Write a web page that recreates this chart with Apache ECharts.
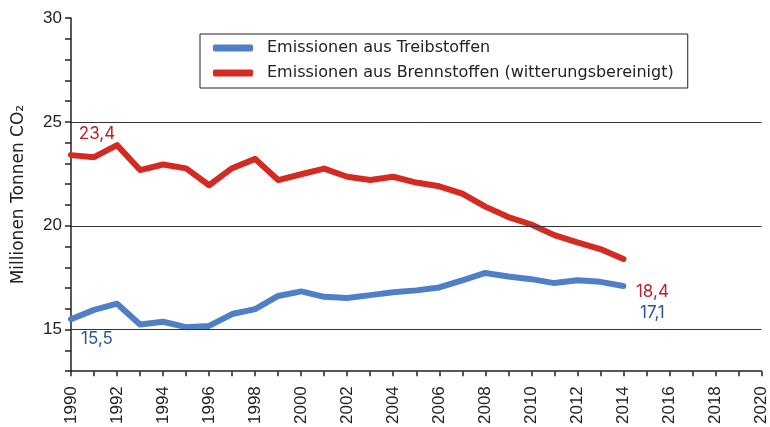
<!DOCTYPE html>
<html>
<head>
<meta charset="utf-8">
<script src="https://cdn.jsdelivr.net/npm/echarts@6/dist/echarts.min.js"></script>
<style>html,body{margin:0;padding:0;background:#fff}#c{width:770px;height:427px}</style>
</head>
<body>
<div id="c"></div>
<script>
const years = [1990,1991,1992,1993,1994,1995,1996,1997,1998,1999,2000,2001,2002,2003,2004,2005,2006,2007,2008,2009,2010,2011,2012,2013,2014];
const treibstoffe = [15.5,15.95,16.25,15.25,15.38,15.12,15.18,15.75,15.99,16.62,16.84,16.58,16.52,16.66,16.8,16.89,17.03,17.37,17.73,17.56,17.43,17.24,17.38,17.3,17.1];
const brennstoffe = [23.4,23.3,23.88,22.68,22.95,22.76,21.95,22.77,23.22,22.2,22.48,22.75,22.36,22.2,22.36,22.08,21.9,21.55,20.92,20.42,20.06,19.55,19.2,18.88,18.4];
const seriesNames = ['Emissionen aus Treibstoffen','Emissionen aus Brennstoffen (witterungsbereinigt)'];
const gridLevels = [15,20,25];
const yTickLabels = [15,20,25,30];
const axisTitle = 'Millionen Tonnen CO\u2082';

const fmt = v => String(v).replace('.', ',');
function build(vals, color, firstOffset, lastOffset){
  return vals.map((v,i)=>{
    const item = {value:[years[i], v]};
    if (i===0 || i===vals.length-1){
      item.label = {show:true, position:'inside', offset: i===0?firstOffset:lastOffset,
        formatter: p=>fmt(p.value[1]), color: color, fontSize:17, fontFamily:'Inter'};
    }
    return item;
  });
}

const chart = echarts.init(document.getElementById('c'));
chart.setOption({
  animation:false,
  backgroundColor:'#fff',
  grid:{left:71,right:5,top:18,bottom:55},
  legend:{
    orient:'vertical', left:200, top:34,
    borderColor:'#222', borderWidth:1, padding:[5,14,6,13],
    itemWidth:40, itemHeight:7, itemGap:7, icon:'roundRect',
    textStyle:{fontFamily:'DejaVu Sans', fontSize:16, color:'#222', lineHeight:18, padding:[0,0,0,9]},
    data:seriesNames
  },
  xAxis:{
    type:'value', min:1990, max:2020, interval:1,
    axisLine:{show:true, lineStyle:{color:'#222', width:1.5}},
    axisTick:{show:true, length:5, lineStyle:{color:'#222', width:1.5}},
    axisLabel:{rotate:90, margin:15, fontSize:17, color:'#222', fontFamily:'Liberation Sans',
      formatter:v=> (v%2===0 ? String(v) : '')},
    splitLine:{show:false}
  },
  yAxis:{
    type:'value', min:13, max:30, interval:1,
    name:axisTitle, nameLocation:'middle', nameGap:44,
    nameTextStyle:{fontSize:17, color:'#222', fontFamily:'DejaVu Sans'},
    axisLine:{show:true, lineStyle:{color:'#222', width:1.5}},
    axisTick:{show:true, length:6, lineStyle:{color:'#222', width:1.5}},
    axisLabel:{margin:9, fontSize:17, color:'#222', fontFamily:'Liberation Sans',
      formatter:v=> (yTickLabels.indexOf(v)>=0 ? String(v) : '')},
    splitLine:{show:false}
  },
  series:[
    {
      name:seriesNames[0], type:'line', z:3,
      data: build(treibstoffe, '#2b5597', [26,20], [29,27]),
      symbol:'circle', symbolSize:0, showSymbol:true,
      lineStyle:{color:'#4f7fc6', width:6, cap:'round', join:'round'},
      itemStyle:{color:'#4f7fc6'},
      markLine:{silent:true, symbol:'none', label:{show:false},
        lineStyle:{color:'#333', width:1, type:'solid'},
        data: gridLevels.map(v=>({yAxis:v}))}
    },
    {
      name:seriesNames[1], type:'line', z:4,
      data: build(brennstoffe, '#b5252b', [26,-21], [29,33]),
      symbol:'circle', symbolSize:0, showSymbol:true,
      lineStyle:{color:'#d42a22', width:6, cap:'round', join:'round'},
      itemStyle:{color:'#d42a22'}
    }
  ]
});
</script>
</body>
</html>
